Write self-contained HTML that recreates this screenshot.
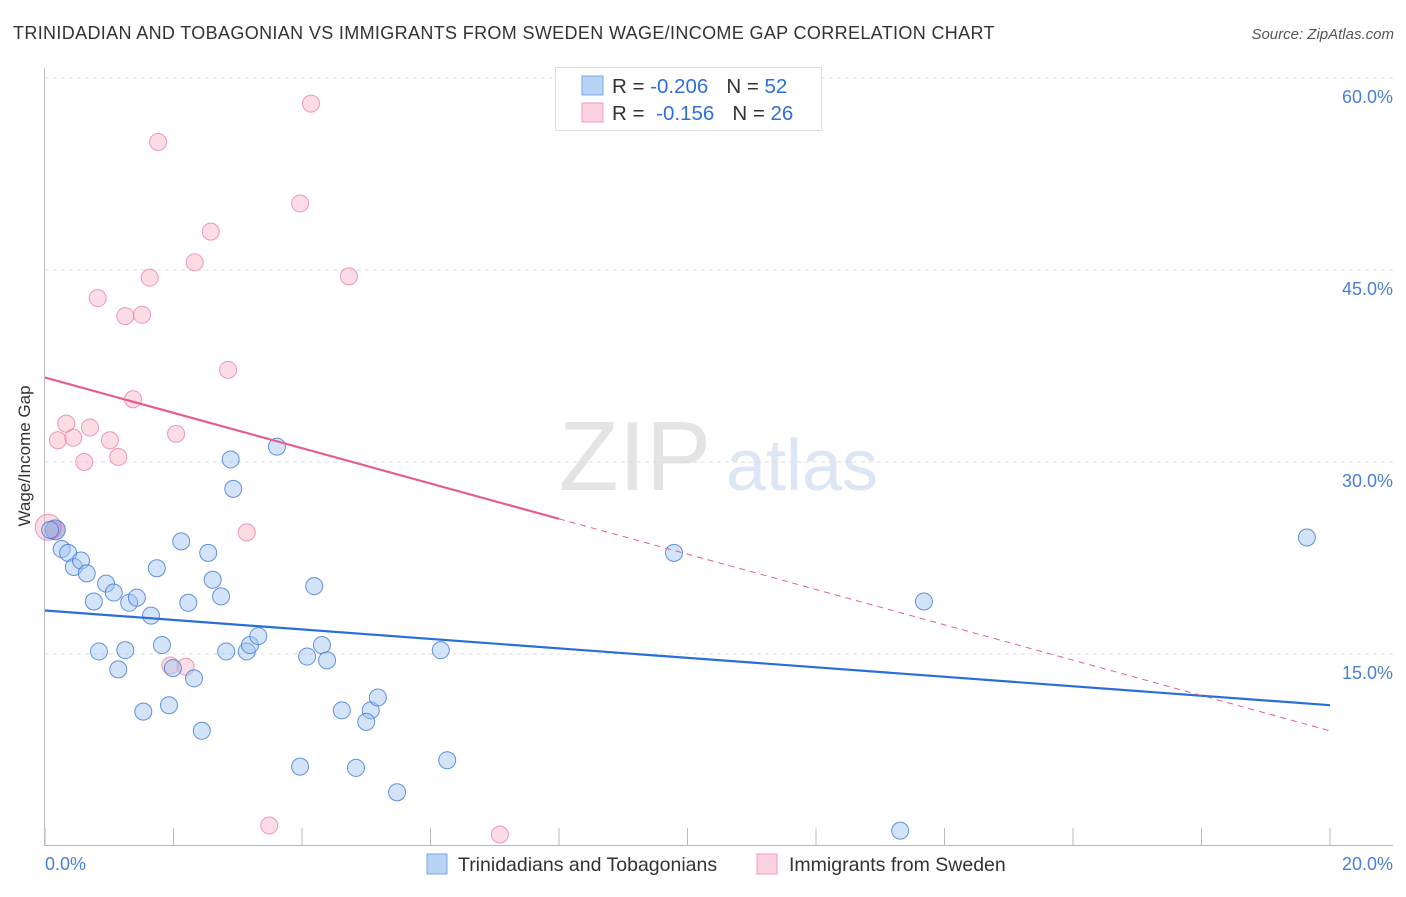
<!DOCTYPE html>
<html><head><meta charset="utf-8"><style>
body{margin:0;background:#fff;font-family:"Liberation Sans",sans-serif;}
svg text{font-family:"Liberation Sans",sans-serif;}
</style></head><body>
<svg id="chart" width="1406" height="892">
<text x="13" y="39" font-size="18" letter-spacing="0.35" fill="#333">TRINIDADIAN AND TOBAGONIAN VS IMMIGRANTS FROM SWEDEN WAGE/INCOME GAP CORRELATION CHART</text>
<text x="1394" y="39" font-size="15" fill="#555" font-style="italic" text-anchor="end">Source: ZipAtlas.com</text>
<text x="30" y="456" font-size="17" fill="#333" text-anchor="middle" transform="rotate(-90 30 456)">Wage/Income Gap</text>
<g><text x="635" y="490" font-size="98" fill="#e4e4e4" font-family="Liberation Serif" text-anchor="middle">ZIP</text><text x="802" y="490" font-size="72" fill="#dce6f4" text-anchor="middle">atlas</text></g>
<g id="grid"></g><g id="ticks"></g><g id="pts"></g><g id="lines"></g>
<g>
<rect x="555.5" y="67.5" width="266" height="63" fill="#fff" stroke="#ddd"/>
<rect x="582" y="76" width="21" height="19" fill="#b9d3f5" stroke="#7aa7e6"/>
<rect x="582" y="103" width="21" height="19" fill="#fcd2de" stroke="#f29ab4"/>
<text x="612" y="93" font-size="20.5" fill="#333">R = <tspan fill="#2f6fdc">-0.206</tspan><tspan dx="18">N = </tspan><tspan fill="#2f6fdc">52</tspan></text>
<text x="612" y="120" font-size="20.5" fill="#333">R = <tspan dx="6" fill="#2f6fdc">-0.156</tspan><tspan dx="18">N = </tspan><tspan fill="#2f6fdc">26</tspan></text>
</g>
<g>
<rect x="427" y="854" width="20" height="20" fill="#b9d3f5" stroke="#7aa7e6"/>
<text x="458" y="871" font-size="19.5" fill="#333">Trinidadians and Tobagonians</text>
<rect x="757" y="854" width="20" height="20" fill="#fcd2de" stroke="#f29ab4"/>
<text x="789" y="871" font-size="19.5" fill="#333">Immigrants from Sweden</text>
</g>
</svg>
<script>
const blueX=[0.16,0.26,0.36,0.45,0.56,0.65,0.76,0.95,1.07,1.31,1.43,1.65,1.74,1.82,2.12,2.23,1.99,2.32,2.54,2.61,2.74,2.82,2.93,3.14,3.19,3.32,3.61,4.19,4.08,4.31,4.39,4.62,5.07,5.00,5.18,4.84,3.97,5.48,6.26,6.16,9.79,13.68,19.64,13.31,0.84,1.25,1.14,1.53,1.93,2.44,2.89,0.08];
const blueY=[24.7,23.2,22.9,21.8,22.3,21.3,19.1,20.5,19.8,19.0,19.4,18.0,21.7,15.7,23.8,19.0,13.9,13.1,22.9,20.8,19.5,15.2,27.9,15.2,15.7,16.4,31.2,20.3,14.8,15.7,14.5,10.6,10.6,9.7,11.6,6.1,6.2,4.2,6.7,15.3,22.9,19.1,24.1,1.2,15.2,15.3,13.8,10.5,11.0,9.0,30.2,24.7];
const pinkX=[0.05,0.2,0.33,0.44,0.61,0.7,1.01,1.14,1.37,0.82,1.25,1.51,1.63,1.76,2.33,2.58,2.85,2.04,3.14,1.95,2.19,3.49,3.97,4.14,4.73,7.08];
const pinkY=[24.9,31.7,33.0,31.9,30.0,32.7,31.7,30.4,34.9,42.8,41.4,41.5,44.4,55.0,45.6,48.0,37.2,32.2,24.5,14.1,14.0,1.6,50.2,58.0,44.5,0.9];
const yTicks=[15,30,45,60];
const yTickLabels=["15.0%","30.0%","45.0%","60.0%"];
const xTicks=[0,2,4,6,8,10,12,14,16,18,20];
const blueTrend=[18.4,11.0];
const pinkTrend=[36.6,9.0];
const pinkSolidEnd=8.0;
const NS="http://www.w3.org/2000/svg";
const X=v=>45+v*64.25, Y=v=>846-v*12.8;
function mk(t,a,p){const e=document.createElementNS(NS,t);for(const k in a)e.setAttribute(k,a[k]);p.appendChild(e);return e;}
const grid=document.getElementById('grid'),ticks=document.getElementById('ticks'),pts=document.getElementById('pts'),lines=document.getElementById('lines');
yTicks.forEach((t,i)=>{
 const l=mk('line',{x1:45,x2:1393,y1:Y(t),y2:Y(t),stroke:'#ddd','stroke-dasharray':'4,4'},grid);
 
 
 const tx=mk('text',{x:1393,y:Y(t)+25,'font-size':18,fill:'#4a7fd6','text-anchor':'end'},ticks);
 tx.textContent=yTickLabels[i];
 
 
});
mk('line',{x1:45,x2:1393,y1:845.5,y2:845.5,stroke:'#bbb'},ticks);
mk('line',{x1:44.5,x2:44.5,y1:68,y2:846,stroke:'#bbb'},ticks);
xTicks.forEach(t=>{
 const l=mk('line',{x1:X(t),x2:X(t),y1:828,y2:846,stroke:'#bbb'},ticks);
 
 
});
const x0=mk('text',{x:45,y:870,'font-size':18,fill:'#4a7fd6'},ticks);x0.textContent='0.0%';


const x1=mk('text',{x:1393,y:870,'font-size':18,fill:'#4a7fd6','text-anchor':'end'},ticks);x1.textContent='20.0%';


pinkX.forEach((x,i)=>{
 const c=mk('circle',{cx:X(x),cy:Y(pinkY[i]),r:i==0?13:8.5,fill:'rgba(248,180,200,0.45)',stroke:'rgba(235,130,160,0.8)','stroke-width':1},pts);
 
 
});
blueX.forEach((x,i)=>{
 const big=i==0;
 const c=mk('circle',{cx:X(x),cy:Y(blueY[i]),r:big?10:8.5,fill:big?'rgba(130,120,200,0.5)':'rgba(160,195,240,0.45)',stroke:'rgba(60,120,215,0.8)','stroke-width':1},pts);
 
 
});
const bl=mk('line',{x1:X(0),y1:Y(blueTrend[0]),x2:X(20),y2:Y(blueTrend[1]),stroke:'#2a6fd8','stroke-width':2.2},lines);


const pAt=v=>pinkTrend[0]+(pinkTrend[1]-pinkTrend[0])*v/20;
const pl=mk('line',{x1:X(0),y1:Y(pinkTrend[0]),x2:X(pinkSolidEnd),y2:Y(pAt(pinkSolidEnd)),stroke:'#e4608a','stroke-width':2.2},lines);


const pd=mk('line',{x1:X(pinkSolidEnd),y1:Y(pAt(pinkSolidEnd)),x2:X(20),y2:Y(pinkTrend[1]),stroke:'#e4608a','stroke-width':1,'stroke-dasharray':'6,5'},lines);


</script>
</body></html>
